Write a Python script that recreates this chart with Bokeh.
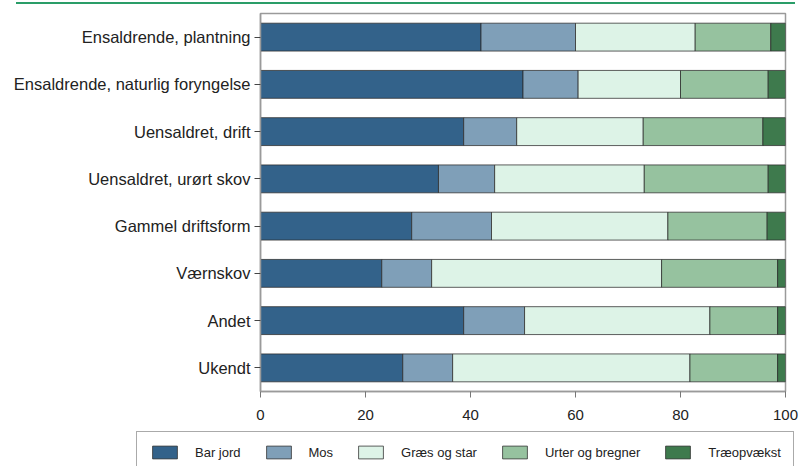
from bokeh.plotting import figure
from bokeh.models import ColumnDataSource, FactorRange, Range1d, Legend, FixedTicker, Div
from bokeh.embed import file_html
from bokeh.resources import INLINE

categories = [
    "Ensaldrende, plantning",
    "Ensaldrende, naturlig foryngelse",
    "Uensaldret, drift",
    "Uensaldret, urørt skov",
    "Gammel driftsform",
    "Værnskov",
    "Andet",
    "Ukendt",
]
bar_jord = [42.0, 50.0, 38.7, 33.9, 28.8, 23.1, 38.7, 27.1]
mos = [18.0, 10.5, 10.1, 10.7, 15.2, 9.5, 11.6, 9.5]
graes = [22.8, 19.5, 24.1, 28.5, 33.6, 43.8, 35.3, 45.2]
urter = [14.4, 16.7, 22.8, 23.6, 18.9, 22.1, 12.9, 16.7]
trae = [2.8, 3.3, 4.3, 3.3, 3.5, 1.5, 1.5, 1.5]

series_names = ["Bar jord", "Mos", "Græs og star", "Urter og bregner", "Træopvækst"]
series_keys = ["bar_jord", "mos", "graes", "urter", "trae"]
colors = ["#33628a", "#7f9fb8", "#ddf3e7", "#96c29f", "#3e7a4d"]
x_ticks = [0, 20, 40, 60, 80, 100]

source = ColumnDataSource(dict(
    cat=categories, bar_jord=bar_jord, mos=mos, graes=graes, urter=urter, trae=trae,
))

FONT = "Liberation Sans"
TXT = "#222222"
EDGE = dict(line_color="#2a2a2a", line_alpha=0.75, line_width=1)

# ---------------- main chart ----------------
p = figure(
    width=810, height=466,
    y_range=FactorRange(factors=list(reversed(categories))),
    x_range=Range1d(0, 100),
    output_backend="svg", toolbar_location=None,
    min_border_left=260, min_border_right=25, min_border_top=13, min_border_bottom=75,
)
p.background_fill_color = "white"
p.border_fill_color = "white"
p.outline_line_color = "#9a9a9a"
p.outline_line_width = 1.5
p.grid.visible = False

p.hbar_stack(series_keys, y="cat", height=0.59, color=colors, source=source, **EDGE)

p.xaxis.ticker = FixedTicker(ticks=x_ticks)
p.xaxis.axis_line_color = "#9a9a9a"
p.xaxis.axis_line_width = 1.5
p.xaxis.major_tick_line_color = "#777777"
p.xaxis.major_tick_in = 0
p.xaxis.major_tick_out = 6
p.xaxis.minor_tick_line_color = None
p.xaxis.major_label_text_font = FONT
p.xaxis.major_label_text_font_size = "15px"
p.xaxis.major_label_text_color = TXT
p.xaxis.major_label_standoff = 12

p.yaxis.axis_line_color = "#9a9a9a"
p.yaxis.axis_line_width = 1.5
p.yaxis.major_tick_line_color = "#444444"
p.yaxis.major_tick_in = 0
p.yaxis.major_tick_out = 6
p.yaxis.major_label_text_font = FONT
p.yaxis.major_label_text_font_size = "16.5px"
p.yaxis.major_label_text_color = TXT
p.yaxis.major_label_standoff = 4

# ---------------- legend strip (overlaid below the axis) ----------------
# same stacked series, drawn on an x range that keeps the bars out of view,
# so that only the legend swatches are visible
lg = figure(
    width=674, height=35,
    y_range=FactorRange(factors=categories), x_range=Range1d(-300, -200),
    output_backend="svg", toolbar_location=None,
    x_axis_location=None, y_axis_location=None,
    min_border_left=0, min_border_right=0, min_border_top=0, min_border_bottom=0,
    styles={"position": "absolute", "left": "136px", "top": "431px"},
)
lg.outline_line_color = None
lg.grid.visible = False
lg.background_fill_color = "white"
lg.border_fill_color = "white"
legend_renderers = lg.hbar_stack(series_keys, y="cat", height=0.59, color=colors,
                                 source=source, **EDGE)
legend = Legend(
    items=[(name, [r]) for name, r in zip(series_names, legend_renderers)],
    orientation="horizontal", location="top_left", margin=0,
    glyph_width=31, glyph_height=16, label_standoff=15, spacing=22,
    padding=12, border_line_color="#555555", border_line_width=1,
    label_text_font=FONT, label_text_font_size="13px", label_text_color=TXT,
    background_fill_alpha=1.0,
)
lg.add_layout(legend, "center")

# ---------------- green rule at the top of the page ----------------
rule = Div(text="", width=779, height=2,
           styles={"position": "absolute", "left": "11px", "top": "-3px",
                   "background-color": "#2a9d68"})

open("out.html", "w").write(file_html([p, lg, rule], INLINE))
